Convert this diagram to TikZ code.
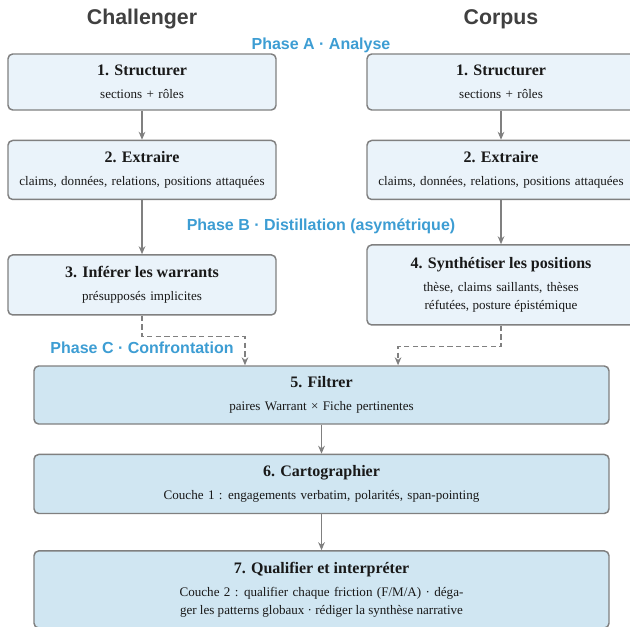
\documentclass[tikz,border=0pt]{standalone}
\usepackage{fontspec}
\setmainfont{Liberation Serif}
\setsansfont{Liberation Sans}
\usetikzlibrary{arrows.meta}
\usetikzlibrary{positioning}

\definecolor{boxline}{RGB}{128,128,128}
\definecolor{topfill}{RGB}{234,243,250}
\definecolor{lowfill}{RGB}{208,230,242}
\definecolor{phasecol}{RGB}{61,157,211}
\definecolor{headcol}{RGB}{64,64,64}
\definecolor{ink}{RGB}{25,25,25}

\newcommand{\titlefont}{\fontsize{12}{13.5}\selectfont\bfseries}
\newcommand{\subfont}{\fontsize{9.8}{13.5}\selectfont}
\newcommand{\steptext}[2]{{\titlefont #1}\\[4pt]\spaceskip=3.3pt plus 1pt minus 1pt #2}

\begin{document}
\begin{tikzpicture}[>={Stealth[length=6pt,width=5pt]},x=0.75pt,y=-0.75pt,
    stage/.style={draw=boxline,line width=1.1pt,rounded corners=3.5pt,fill=topfill,
      align=center,minimum width=201pt,inner sep=0pt,font=\subfont,text=ink},
    widestage/.style={stage,fill=lowfill,minimum width=431.25pt},
    header/.style={font=\sffamily\bfseries\fontsize{16}{18}\selectfont,text=headcol},
    phase/.style={font=\sffamily\bfseries\fontsize{12}{14}\selectfont,text=phasecol},
    flow/.style={->,draw=boxline,line width=1pt},
    flowdash/.style={flow,dash pattern=on 4pt off 2.5pt}]

      \useasboundingbox (0,0) rectangle (630,626);

      % column headers and phases
      \node[header] (hchal) at (142,19) {Challenger};
      \node[header] (hcorp) at (501,19) {Corpus};
      \node[phase] (phA) at (321,45.5) {Phase A · Analyse};
      \node[phase] (phB) at (321,226) {Phase B · Distillation (asymétrique)};
      \node[phase] (phC) at (142,348) {Phase C · Confrontation};

      % Challenger
      \node[stage,minimum height=42pt] (s1l) at (142,82)
        {\steptext{1. Structurer}{sections + rôles}};
      \node[stage,minimum height=44.25pt,below=21.75pt of s1l] (s2l)
        {\steptext{2. Extraire}{claims, données, relations, positions attaquées}};
      \node[stage,minimum height=45pt,below=40.5pt of s2l] (s3l)
        {\steptext{3. Inférer les warrants}{présupposés implicites}};

      % Corpus
      \node[stage,minimum height=42pt] (s1r) at (501,82)
        {\steptext{1. Structurer}{sections + rôles}};
      \node[stage,minimum height=44.25pt,below=21.75pt of s1r] (s2r)
        {\steptext{2. Extraire}{claims, données, relations, positions attaquées}};
      \node[stage,minimum height=60pt,below=33pt of s2r] (s4r)
        {\steptext{4. Synthétiser les positions}{thèse, claims saillants, thèses\\réfutées, posture épistémique}};

      % confrontation
      \node[widestage,minimum height=43.5pt] (s5) at (321.5,395)
        {\steptext{5. Filtrer}{paires Warrant × Fiche pertinentes}};
      \node[widestage,minimum height=44.25pt,below=21.75pt of s5] (s6)
        {\steptext{6. Cartographier}{Couche 1 : engagements verbatim, polarités, span-pointing}};
      \node[widestage,minimum height=57.75pt,below=27pt of s6] (s7)
        {\steptext{7. Qualifier et interpréter}{Couche 2 : qualifier chaque friction (F/M/A) · déga-\\ger les patterns globaux · rédiger la synthèse narrative}};

      \path[flow]
        (s1l) edge (s2l)
        (s2l) edge (s3l)
        (s1r) edge (s2r)
        (s2r) edge (s4r)
        (s5) edge (s6)
        (s6) edge (s7);

      \draw[flowdash] (s3l.south) -- ++(0,21) -| ([xshift=-57.4pt]s5.north);
      \draw[flowdash] (s4r.south) -- ++(0,21) -| ([xshift=57.4pt]s5.north);
\end{tikzpicture}
\end{document}
